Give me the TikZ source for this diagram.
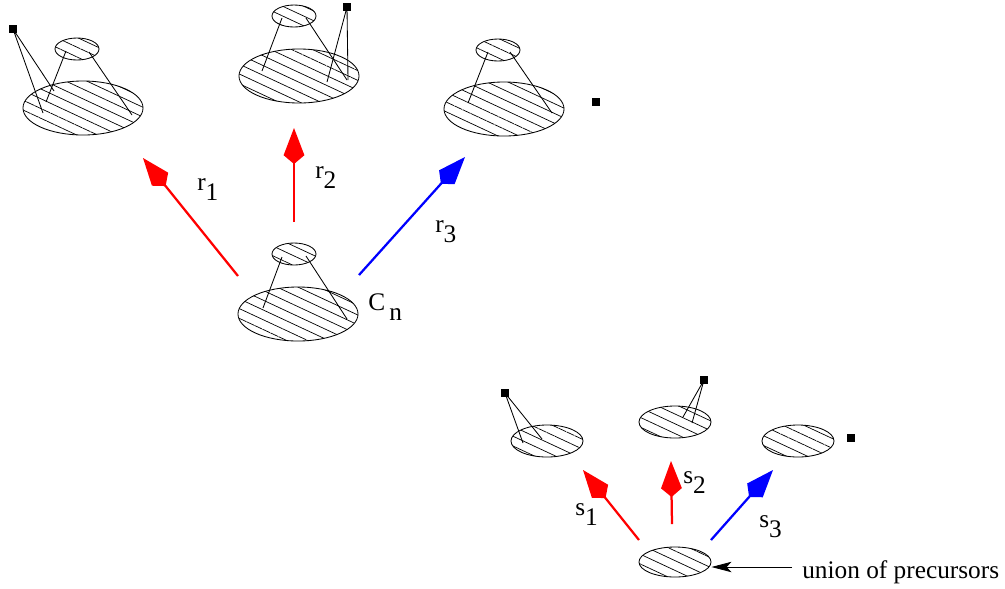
\documentclass[tikz,border=0pt]{standalone}
\usepackage{fontspec}
\setmainfont{Liberation Serif}
\usepackage{tikz}
\usetikzlibrary{shapes.geometric,arrows.meta,patterns.meta,calc}
\definecolor{arrred}{RGB}{255,0,0}
\definecolor{arrblue}{RGB}{0,0,255}
\newcommand{\sublab}[2]{#1\raisebox{-7.5pt}{#2}}

\begin{document}
\begin{tikzpicture}[x=0.025cm, y=-0.025cm,
    font=\rmfamily\fontsize{18}{20}\selectfont,
    hatched/.style={ellipse, draw, line width=0.6pt, inner sep=0pt,
        pattern={Lines[angle=-25,distance=6.3pt,line width=0.5pt]}},
    bigset/.style={hatched, minimum width=3cm, minimum height=1.35cm},
    smallset/.style={hatched, minimum width=1.1cm, minimum height=0.55cm},
    midset/.style={hatched, minimum width=1.8cm, minimum height=0.8cm},
    pt/.style={rectangle, fill=black, inner sep=0pt, minimum size=0.2cm},
    link/.style={line width=0.6pt},
    move/.style={line width=1.6pt, -{Kite[length=0.9cm,width=0.52cm,inset=0.22cm]}},
    lab/.style={anchor=base west, inner sep=0pt}]
    \useasboundingbox (0,0) rectangle (1005,588);

    % Top row: images of C_n
    \node[bigset]   (tlBig)   at (83,108) {};
    \node[smallset] (tlSmall) at (77,49)  {};
    \node[pt]       (tlPt)    at (13,29)  {};
    \node[bigset]   (tmBig)   at (299,76) {};
    \node[smallset] (tmSmall) at (294,16) {};
    \node[pt]       (tmPt)    at (347,7)  {};
    \node[bigset]   (trBig)   at (504,109) {};
    \node[smallset] (trSmall) at (498,50) {};
    \node[pt]       (trPt)    at (596,102) {};

    \coordinate (tl1) at (66,51);   \coordinate (tl2) at (46,102);
    \coordinate (tl3) at (89,52);   \coordinate (tl4) at (132,115);
    \coordinate (tl5) at (43,113);  \coordinate (tl6) at (54,91);
    \draw[link] (tl1) -- (tl2) (tl3) -- (tl4);
    \draw[link] (tl5) -- (tlPt.center) -- (tl6);

    \coordinate (tm1) at (282,18);  \coordinate (tm2) at (262,71);
    \coordinate (tm3) at (306,18);  \coordinate (tm4) at (347,80);
    \coordinate (tm5) at (348,80);  \coordinate (tm6) at (327,82);
    \draw[link] (tm1) -- (tm2) (tm3) -- (tm4);
    \draw[link] (tm5) -- (tmPt.center) -- (tm6);

    \coordinate (tr1) at (488,52);  \coordinate (tr2) at (468,103);
    \coordinate (tr3) at (510,52);  \coordinate (tr4) at (552,113);
    \draw[link] (tr1) -- (tr2) (tr3) -- (tr4);

    % Centre: C_n
    \node[bigset]   (cBig)   at (298,314) {};
    \node[smallset] (cSmall) at (294,254) {};
    \coordinate (c1) at (282,257);  \coordinate (c2) at (263,308);
    \coordinate (c3) at (306,256);  \coordinate (c4) at (347,319);
    \draw[link] (c1) -- (c2) (c3) -- (c4);
    \node[lab] (cLab) at (368,310) {\sublab{C\,}{n}};

    % Moves r_i
    \coordinate (r1a) at (238,276); \coordinate (r1b) at (143,158);
    \coordinate (r2a) at (294,222); \coordinate (r2b) at (294,128);
    \coordinate (r3a) at (359,275); \coordinate (r3b) at (465,157);
    \draw[move, arrred]  (r1a) -- (r1b);
    \draw[move, arrred]  (r2a) -- (r2b);
    \draw[move, arrblue] (r3a) -- (r3b);
    \node[lab] (r1Lab) at (197,190) {\sublab{r}{1}};
    \node[lab] (r2Lab) at (315,178) {\sublab{r}{2}};
    \node[lab] (r3Lab) at (435,232) {\sublab{r}{3}};

    % Bottom right: union of precursors
    \node[midset] (blSet) at (547,441) {};
    \node[midset] (bmSet) at (675,422) {};
    \node[midset] (brSet) at (798,441) {};
    \node[midset, minimum height=0.75cm] (uSet) at (675,562) {};
    \node[pt] (blPt) at (505,393) {};
    \node[pt] (bmPt) at (704,380) {};
    \node[pt] (brPt) at (851,438) {};

    \coordinate (bl1) at (523,443); \coordinate (bl2) at (542,439);
    \coordinate (bm1) at (683,417); \coordinate (bm2) at (692,423);
    \draw[link] (bl1) -- (blPt.center) -- (bl2);
    \draw[link] (bm1) -- (bmPt.center) -- (bm2);

    \coordinate (s1a) at (639,540); \coordinate (s1b) at (583,470);
    \coordinate (s2a) at (672,524); \coordinate (s2b) at (671,461);
    \coordinate (s3a) at (711,540); \coordinate (s3b) at (773,470);
    \draw[move, arrred]  (s1a) -- (s1b);
    \draw[move, arrred]  (s2a) -- (s2b);
    \draw[move, arrblue] (s3a) -- (s3b);
    \node[lab] (s1Lab) at (575,515) {\sublab{s}{1}};
    \node[lab] (s2Lab) at (683,483) {\sublab{s}{2}};
    \node[lab] (s3Lab) at (759,527) {\sublab{s}{3}};

    \node[lab] (uLab) at (802,578) {union of precursors};
    \coordinate (uArr) at (792,567);
    \draw[line width=0.6pt, -{Stealth[length=0.5cm,width=0.26cm,inset=0.12cm]}]
        (uArr) -- (uSet.east |- uArr);
\end{tikzpicture}
\end{document}
